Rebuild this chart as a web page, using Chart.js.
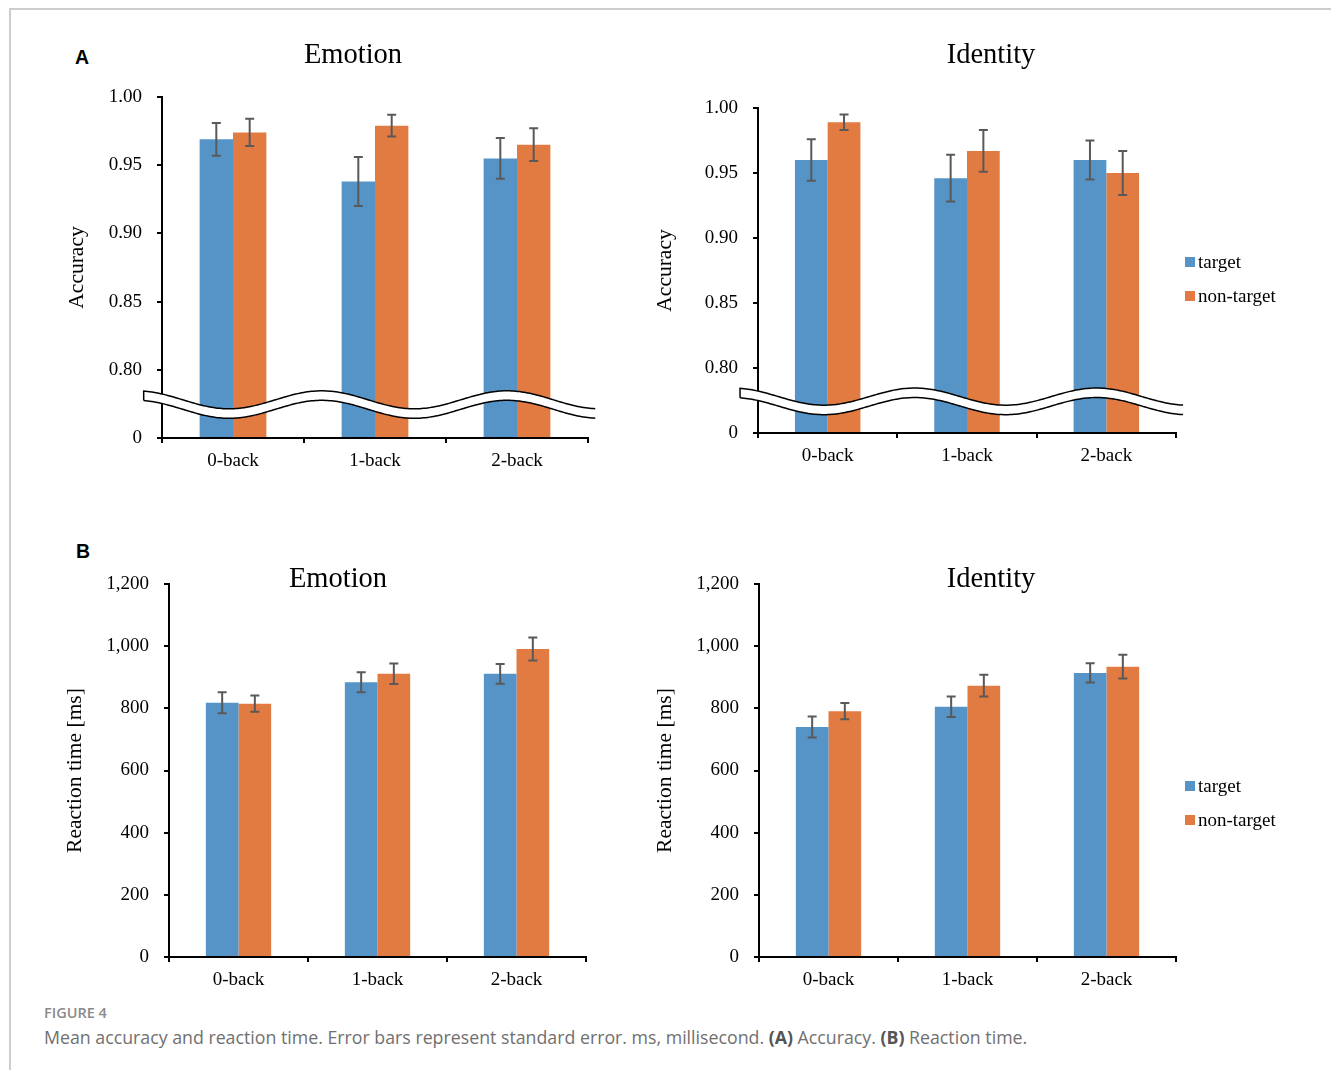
<!DOCTYPE html>
<html>
<head>
<meta charset="utf-8">
<script src="https://cdn.jsdelivr.net/npm/chart.js@4.4.1/dist/chart.umd.min.js"></script>
<style>
  html, body { margin: 0; padding: 0; background: #fff; }
  body { width: 1331px; height: 1070px; position: relative; overflow: hidden; }
  .frame-top { position: absolute; left: 9px; top: 8px; width: 1322px; border-top: 2px solid #cdcdcd; }
  .frame-left { position: absolute; left: 9px; top: 8px; height: 1062px; border-left: 2px solid #cdcdcd; }
  canvas { position: absolute; }
  .panel-label { position: absolute; font: bold 19.5px "Liberation Sans", Arial, sans-serif; line-height: 19.5px; color: #000; }
  #figno { position: absolute; left: 44px; top: 1006px; font: 600 14.5px "Open Sans", sans-serif; line-height: 14.5px; color: #8a8a8a; }
  #caption { position: absolute; left: 44px; top: 1029px; font: 17.75px "Open Sans", sans-serif; line-height: 17.75px; color: #707070; white-space: nowrap; }
  #caption b { color: #555; }
</style>
</head>
<body>
<div class="frame-top"></div>
<div class="frame-left"></div>

<div class="panel-label" style="left:75px; top:48px;">A</div>
<div class="panel-label" style="left:76px; top:542px;">B</div>

<canvas id="accEmotion" width="600" height="470" style="left:30px; top:20px;"></canvas>
<canvas id="accIdentity" width="700" height="470" style="left:630px; top:20px;"></canvas>
<canvas id="rtEmotion" width="600" height="480" style="left:30px; top:520px;"></canvas>
<canvas id="rtIdentity" width="700" height="480" style="left:630px; top:520px;"></canvas>

<div id="figno">FIGURE 4</div>
<div id="caption">Mean accuracy and reaction time. Error bars represent standard error. ms, millisecond. <b>(A)</b> Accuracy. <b>(B)</b> Reaction time.</div>

<script>
const categories = ['0-back', '1-back', '2-back'];
const seriesNames = ['target', 'non-target'];
const seriesColors = ['#5694c8', '#e27b42'];

// accuracy axis: bottom tick is the broken "0"
const accMin = 0.75, accMax = 1.0, accStep = 0.05;
const rtMin = 0, rtMax = 1200, rtStep = 200;

const emotionAccTarget = [0.969, 0.938, 0.955];
const emotionAccTargetSE = [0.012, 0.018, 0.015];
const emotionAccNontarget = [0.974, 0.979, 0.965];
const emotionAccNontargetSE = [0.010, 0.008, 0.012];

const identityAccTarget = [0.960, 0.946, 0.960];
const identityAccTargetSE = [0.016, 0.018, 0.015];
const identityAccNontarget = [0.989, 0.967, 0.950];
const identityAccNontargetSE = [0.006, 0.016, 0.017];

const emotionRtTarget = [818, 884, 911];
const emotionRtTargetSE = [34, 32, 32];
const emotionRtNontarget = [815, 911, 991];
const emotionRtNontargetSE = [26, 33, 37];

const identityRtTarget = [740, 805, 914];
const identityRtTargetSE = [34, 33, 31];
const identityRtNontarget = [791, 873, 934];
const identityRtNontargetSE = [26, 35, 38];

const SERIF = '"Liberation Serif", "Times New Roman", serif';
Chart.defaults.font.family = SERIF;
Chart.defaults.color = '#000';

// whiskers from dataset.errors
const errorBars = {
  id: 'errorBars',
  afterDatasetsDraw(chart) {
    const ctx = chart.ctx;
    const y = chart.scales.y;
    ctx.save();
    ctx.strokeStyle = '#595959';
    ctx.lineWidth = 2;
    chart.data.datasets.forEach((ds, i) => {
      chart.getDatasetMeta(i).data.forEach((bar, j) => {
        const top = y.getPixelForValue(ds.data[j] + ds.errors[j]);
        const bot = y.getPixelForValue(ds.data[j] - ds.errors[j]);
        ctx.beginPath();
        ctx.moveTo(bar.x, top); ctx.lineTo(bar.x, bot);
        ctx.moveTo(bar.x - 4.5, top); ctx.lineTo(bar.x + 4.5, top);
        ctx.moveTo(bar.x - 4.5, bot); ctx.lineTo(bar.x + 4.5, bot);
        ctx.stroke();
      });
    });
    ctx.restore();
  }
};

// wavy white band that marks the broken y axis
const axisBreak = {
  id: 'axisBreak',
  afterDraw(chart, args, opts) {
    if (!opts.display) return;
    const { ctx, chartArea: a } = chart;
    const y = chart.scales.y;
    const w = a.right - a.left;
    const x0 = a.left - 0.043 * w, x1 = a.right + 0.017 * w;
    const upper = x => {
      const f = (x - a.left) / w;
      return y.getPixelForValue(opts.mid + opts.amp * Math.cos(2 * Math.PI * (f - opts.peak) / opts.period));
    };
    const pts = [];
    for (let x = x0; x < x1; x += 2) pts.push([x, upper(x)]);
    pts.push([x1, upper(x1)]);
    const gap = opts.gap;

    ctx.save();
    ctx.beginPath();
    pts.forEach(([x, yy], i) => i ? ctx.lineTo(x, yy) : ctx.moveTo(x, yy));
    for (let i = pts.length - 1; i >= 0; i--) ctx.lineTo(pts[i][0], pts[i][1] + gap);
    ctx.closePath();
    ctx.fillStyle = '#fff';
    ctx.fill();

    ctx.strokeStyle = '#000';
    ctx.lineWidth = 1.5;
    ctx.beginPath();
    ctx.moveTo(pts[0][0], pts[0][1] + gap);
    pts.forEach(([x, yy]) => ctx.lineTo(x, yy));
    ctx.stroke();
    ctx.beginPath();
    pts.forEach(([x, yy], i) => i ? ctx.lineTo(x, yy + gap) : ctx.moveTo(x, yy + gap));
    ctx.stroke();
    ctx.restore();
  }
};

const panelTitle = {
  id: 'panelTitle',
  afterDraw(chart, args, opts) {
    const ctx = chart.ctx;
    ctx.save();
    ctx.font = '28.5px ' + SERIF;
    ctx.fillStyle = '#000';
    ctx.textAlign = 'center';
    ctx.textBaseline = 'alphabetic';
    ctx.fillText(opts.text, opts.x, opts.y);
    ctx.restore();
  }
};

// legend to the right of the plot, Excel style
const sideLegend = {
  id: 'sideLegend',
  afterDraw(chart, args, opts) {
    if (!opts.display) return;
    const { ctx, chartArea: a } = chart;
    ctx.save();
    ctx.font = '19px ' + SERIF;
    ctx.textBaseline = 'middle';
    ctx.textAlign = 'left';
    chart.data.datasets.forEach((ds, i) => {
      const cy = a.top + opts.y + i * opts.step;
      ctx.fillStyle = ds.backgroundColor;
      ctx.fillRect(a.right + 9, cy - 5, 10, 10);
      ctx.fillStyle = '#000';
      ctx.fillText(ds.label, a.right + 22, cy + 1);
    });
    ctx.restore();
  }
};

function makePanel(id, cfg) {
  const isAcc = cfg.kind === 'acc';
  return new Chart(document.getElementById(id), {
    type: 'bar',
    data: {
      labels: categories,
      datasets: [
        { label: seriesNames[0], data: cfg.target, errors: cfg.targetSE, backgroundColor: seriesColors[0], base: isAcc ? accMin : rtMin },
        { label: seriesNames[1], data: cfg.non, errors: cfg.nonSE, backgroundColor: seriesColors[1], base: isAcc ? accMin : rtMin }
      ]
    },
    options: {
      responsive: false,
      animation: false,
      layout: { padding: { top: cfg.padTop, right: cfg.padRight, left: 0, bottom: 0 } },
      datasets: { bar: { barPercentage: 1, categoryPercentage: 0.47 } },
      plugins: {
        legend: { display: false },
        tooltip: { enabled: false },
        panelTitle: { text: cfg.title, x: cfg.titleX, y: cfg.titleY },
        sideLegend: { display: cfg.legend, y: cfg.legendY, step: 34 },
        axisBreak: { display: isAcc, mid: 0.778, amp: 0.0066, peak: 0.375, period: 0.435, gap: 9.5 }
      },
      scales: {
        x: {
          grid: { drawOnChartArea: false, tickLength: 5, color: '#000', lineWidth: 2 },
          border: { color: '#000', width: 2 },
          ticks: { font: { size: 19 }, color: '#000', padding: 7 },
          afterFit: s => { s.height = cfg.xH; }
        },
        y: {
          min: isAcc ? accMin : rtMin,
          max: isAcc ? accMax : rtMax,
          grid: { drawOnChartArea: false, tickLength: 5, color: '#000', lineWidth: 2 },
          border: { color: '#000', width: 2 },
          ticks: {
            stepSize: isAcc ? accStep : rtStep,
            font: { size: 19 },
            color: '#000',
            padding: 15,
            callback: v => isAcc ? (v < accMin + 0.001 ? '0' : v.toFixed(2)) : v.toLocaleString('en-US')
          },
          title: {
            display: true,
            text: isAcc ? 'Accuracy' : 'Reaction time [ms]',
            font: { size: 21.5 },
            color: '#000',
            padding: { top: cfg.yTitlePad, bottom: 0 }
          },
          afterFit: s => { s.width = cfg.yW; }
        }
      }
    },
    plugins: [errorBars, axisBreak, panelTitle, sideLegend]
  });
}

makePanel('accEmotion', {
  kind: 'acc', title: 'Emotion', titleX: 323, titleY: 43.3,
  target: emotionAccTarget, targetSE: emotionAccTargetSE,
  non: emotionAccNontarget, nonSE: emotionAccNontargetSE,
  padTop: 77, padRight: 42, yW: 132, xH: 52, yTitlePad: 34, legend: false
});

makePanel('accIdentity', {
  kind: 'acc', title: 'Identity', titleX: 361, titleY: 43.3,
  target: identityAccTarget, targetSE: identityAccTargetSE,
  non: identityAccNontarget, nonSE: identityAccNontargetSE,
  padTop: 88, padRight: 154, yW: 128, xH: 57, yTitlePad: 22, legend: true, legendY: 154
});

makePanel('rtEmotion', {
  kind: 'rt', title: 'Emotion', titleX: 308, titleY: 67,
  target: emotionRtTarget, targetSE: emotionRtTargetSE,
  non: emotionRtNontarget, nonSE: emotionRtNontargetSE,
  padTop: 64, padRight: 44, yW: 139, xH: 43, yTitlePad: 32, legend: false
});

makePanel('rtIdentity', {
  kind: 'rt', title: 'Identity', titleX: 361, titleY: 67,
  target: identityRtTarget, targetSE: identityRtTargetSE,
  non: identityRtNontarget, nonSE: identityRtNontargetSE,
  padTop: 64, padRight: 154, yW: 129, xH: 43, yTitlePad: 22, legend: true, legendY: 202
});
</script>
</body>
</html>
